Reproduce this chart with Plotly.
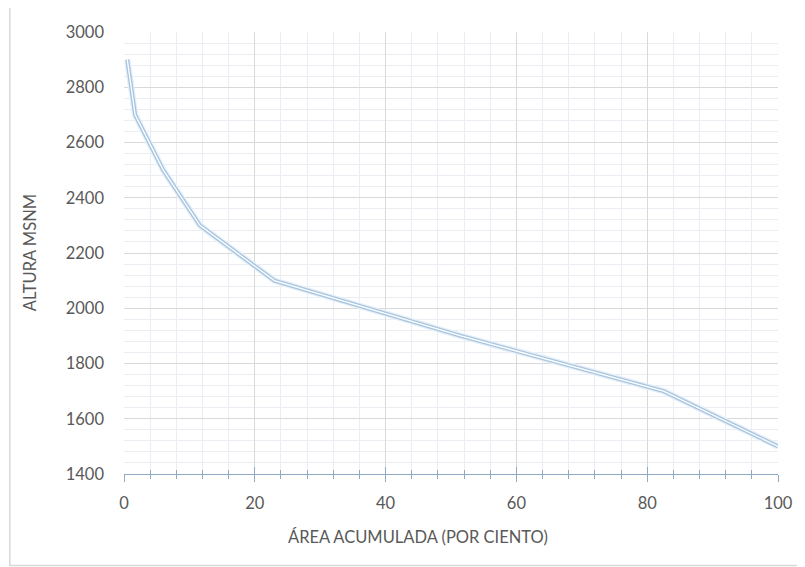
import plotly.graph_objects as go

area_pct = [0.5, 1.7, 6.0, 11.6, 23.0, 51.5, 82.5, 100.0]
altura = [2900, 2700, 2500, 2300, 2100, 1900, 1700, 1500]
x_title = "ÁREA ACUMULADA (POR CIENTO)"
y_title = "ALTURA MSNM"

# page body has an 8px margin, so the figure is drawn at (8, 8)
OFF = 8
W, H = 805 - OFF, 567 - OFF
L, R, T, B = 124 - OFF, 25, 32 - OFF, 567 - 474
pw, ph = W - L - R, H - T - B

def px2paper_x(px):
    return (px - OFF - L) / pw

def px2paper_y(py):
    return (H - B - (py - OFF)) / ph

font_fam = "Lato, 'Open Sans', sans-serif"
txt_col = "#595959"
axis_col = "#8ea9c1"

fig = go.Figure()
fig.add_trace(go.Scatter(x=area_pct, y=altura, mode="lines",
                         line=dict(color="#e6f0f9", width=6.5), hoverinfo="skip", showlegend=False))
fig.add_trace(go.Scatter(x=area_pct, y=altura, mode="lines",
                         line=dict(color="#a8c5df", width=4), showlegend=False))
fig.add_trace(go.Scatter(x=area_pct, y=altura, mode="lines",
                         line=dict(color="#ffffff", width=1.3), hoverinfo="skip", showlegend=False))
# invisible trace on overlay axis for crossing ticks
fig.add_trace(go.Scatter(x=[0, 100], y=[1400, 1400], xaxis="x2", mode="lines",
                         line=dict(width=0), hoverinfo="skip", showlegend=False))

fig.update_layout(
    width=W, height=H,
    margin=dict(l=L, r=R, t=T, b=B),
    paper_bgcolor="white", plot_bgcolor="white",
    font=dict(family=font_fam, color=txt_col, size=14),
    xaxis=dict(range=[0, 100], dtick=20, tick0=0,
               showgrid=True, gridcolor="#d9d9d9", gridwidth=1,
               minor=dict(dtick=4, showgrid=True, gridcolor="#eaeef3", gridwidth=1,
                          ticks="outside", ticklen=4, tickcolor=axis_col),
               ticks="outside", ticklen=7, tickcolor=axis_col, tickwidth=1,
               showline=True, linecolor=axis_col, linewidth=1.3,
               zeroline=False, ticklabelstandoff=7,
               tickfont=dict(size=16.5, color=txt_col, family=font_fam)),
    xaxis2=dict(range=[0, 100], dtick=20, tick0=0, overlaying="x", anchor="y", side="bottom",
                showgrid=False, showticklabels=False, zeroline=False, showline=False,
                ticks="inside", ticklen=7, tickcolor=axis_col, tickwidth=1,
                minor=dict(dtick=4, ticks="inside", ticklen=4, tickcolor=axis_col)),
    yaxis=dict(range=[1400, 3000], dtick=200, tick0=1400,
               showgrid=True, gridcolor="#d9d9d9", gridwidth=1,
               minor=dict(dtick=40, showgrid=True, gridcolor="#eaeef3", gridwidth=1),
               ticks="", showline=False, zeroline=False, ticklabelstandoff=19,
               tickfont=dict(size=16.5, color=txt_col, family=font_fam)),
    shapes=[dict(type="rect", xref="paper", yref="paper",
                 x0=px2paper_x(9.5), x1=px2paper_x(815), y0=px2paper_y(565.5), y1=px2paper_y(6.5),
                 line=dict(color="#d9d9d9", width=1.5), fillcolor="rgba(0,0,0,0)", layer="below")],
    annotations=[
        dict(text=x_title, xref="paper", yref="paper",
             x=px2paper_x(419), y=px2paper_y(537), showarrow=False,
             xanchor="center", yanchor="middle",
             font=dict(size=16.5, color=txt_col, family=font_fam)),
        dict(text=y_title, xref="paper", yref="paper",
             x=px2paper_x(30), y=px2paper_y(253), showarrow=False, textangle=-90,
             xanchor="center", yanchor="middle",
             font=dict(size=16.5, color=txt_col, family=font_fam)),
    ],
)

fig.write_html("out.html")
